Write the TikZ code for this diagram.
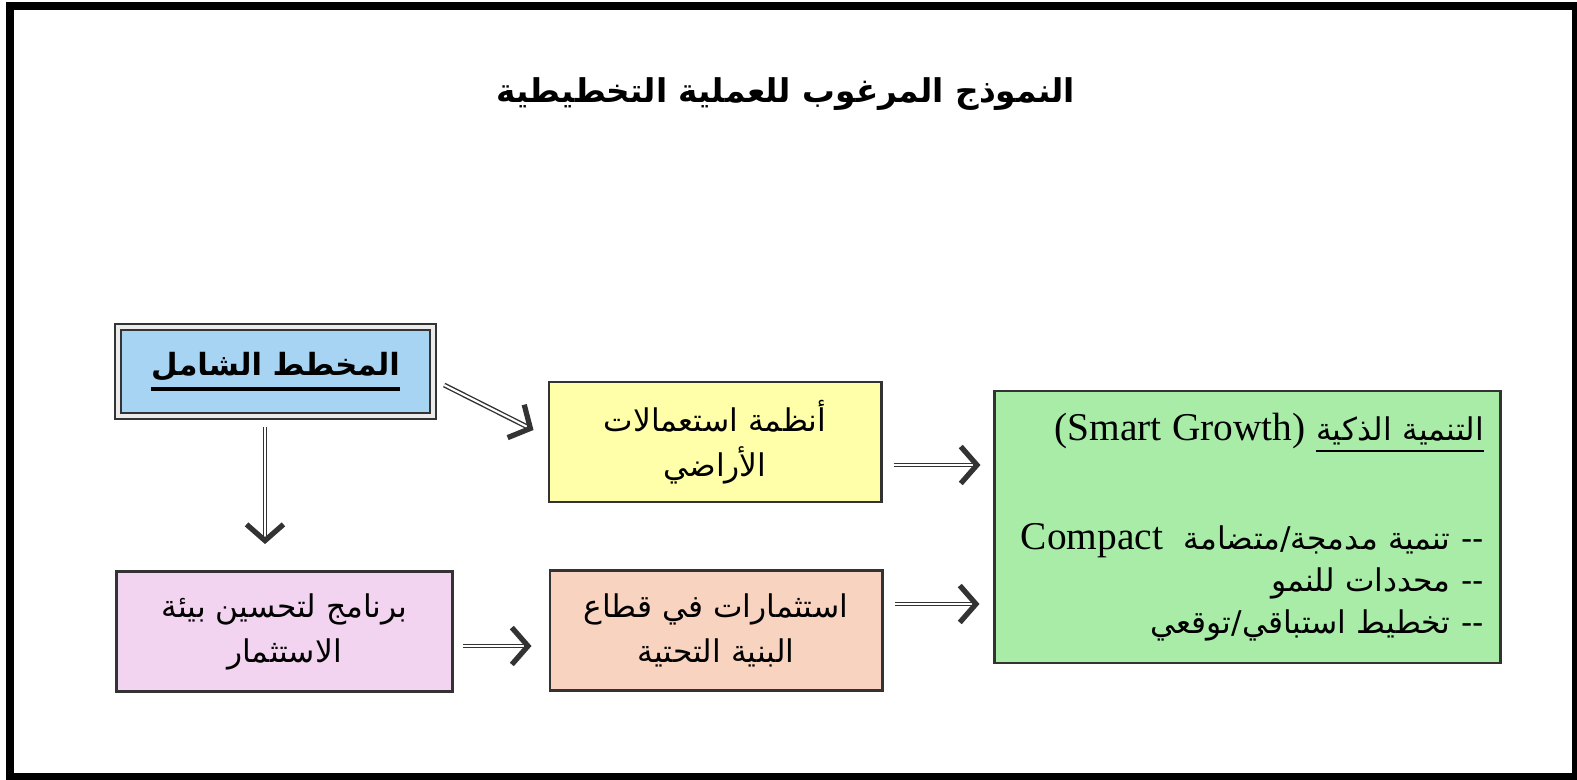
\documentclass[tikz,border=0pt]{standalone}
\usepackage{fontspec}
\setmainfont{Liberation Serif}
\newfontfamily\arabicfont[Script=Arabic]{DejaVu Sans}
\TeXXeTstate=1
\usetikzlibrary{arrows.meta,calc}
\newcommand\ulthick[2]{\leavevmode\vtop{\hbox{#2}\kern1.6pt\hrule height #1}}
\tikzset{
  box/.style={draw=black!80, line width=0.8pt, minimum width=3.32cm, minimum height=1.2cm, align=center, inner sep=0pt, font=\arabicfont\fontsize{8.9}{12.8}\selectfont},
  shaft/.style={draw=black!80, double=white, double distance=0.6pt, line width=0.4pt, shorten >=2pt},
  head/.style={draw=black!80, line width=1.5pt, -{Straight Barb[length=4.6pt,width=10.5pt]}},
}
\begin{document}
\begin{tikzpicture}[x=0.01cm, y=-0.01cm]
\useasboundingbox (0,0) rectangle (1577,779);
\draw[line width=0.08cm] (10,6) rectangle (1576,777);
% title
\node[font=\arabicfont\bfseries\fontsize{9.3}{12}\selectfont] (title) at (786,94) {\beginR النموذج المرغوب للعملية التخطيطية\endR};
% boxes
\definecolor{col}{HTML}{A6D4F2}
\node[box, fill=col, double=white!92!black, double distance=1pt, line width=0.6pt, minimum width=3.15cm, minimum height=0.89cm, font=\arabicfont\bfseries\fontsize{8.7}{12}\selectfont] (master) at (275.5,371.5) {\ulthick{1.1pt}{\beginR المخطط الشامل\endR}};
\definecolor{col}{HTML}{FFFFAA}
\node[box, fill=col] (landuse) at (715,442) {\beginR أنظمة استعمالات\endR\\\beginR الأراضي\endR};
\definecolor{col}{HTML}{F2D4F0}
\node[box, fill=col, minimum width=3.35cm] (program) at (284.5,631.5) {\beginR برنامج لتحسين بيئة\endR\\\beginR الاستثمار\endR};
\definecolor{col}{HTML}{F8D4C0}
\node[box, fill=col] (invest) at (716,630.5) {\beginR استثمارات في قطاع\endR\\\beginR البنية التحتية\endR};
\definecolor{col}{HTML}{A8ECA8}
\node[box, fill=col, minimum width=5.05cm, minimum height=2.72cm, text width=4.72cm, align=right, font=\arabicfont\fontsize{8.9}{12}\selectfont] (smart) at (1247.5,527) {\beginR\ulthick{0.6pt}{\beginR التنمية الذكية\endR} \beginL{\rmfamily\fontsize{11.2}{12}\selectfont(Smart Growth)}\endL\endR\\[19pt]
\beginR -{}- تنمية مدمجة/متضامة \ \beginL{\rmfamily\fontsize{11.2}{12}\selectfont Compact}\endL\endR\\
\beginR -{}- محددات للنمو\endR\\
\beginR -{}- تخطيط استباقي/توقعي\endR};
% arrows
\coordinate (m1) at ([shift={(10,13.5)}]master.east);
\coordinate (l1) at ([shift={(-14,-12)}]landuse.west);
\coordinate (m2) at ([shift={(-10.5,10)}]master.south);
\coordinate (p1) at ([shift={(-19.5,-26)}]program.north);
\coordinate (p2) at ([shift={(9,14.5)}]program.east);
\coordinate (i1) at ([shift={(-17,15.5)}]invest.west);
\coordinate (l2) at ([shift={(11,23)}]landuse.east);
\coordinate (s1) at ([shift={(-13,-62)}]smart.west);
\coordinate (i2) at ([shift={(11,-26.5)}]invest.east);
\coordinate (s2) at ([shift={(-14,77)}]smart.west);
\draw[shaft] (m1) -- (l1);
\draw[head] ($(l1)!2pt!(m1)$) -- (l1);
\draw[shaft] (m2) -- (p1);
\draw[head] ($(p1)!2pt!(m2)$) -- (p1);
\draw[shaft] (p2) -- (i1);
\draw[head] ($(i1)!2pt!(p2)$) -- (i1);
\draw[shaft] (l2) -- (s1);
\draw[head] ($(s1)!2pt!(l2)$) -- (s1);
\draw[shaft] (i2) -- (s2);
\draw[head] ($(s2)!2pt!(i2)$) -- (s2);
\end{tikzpicture}
\end{document}
